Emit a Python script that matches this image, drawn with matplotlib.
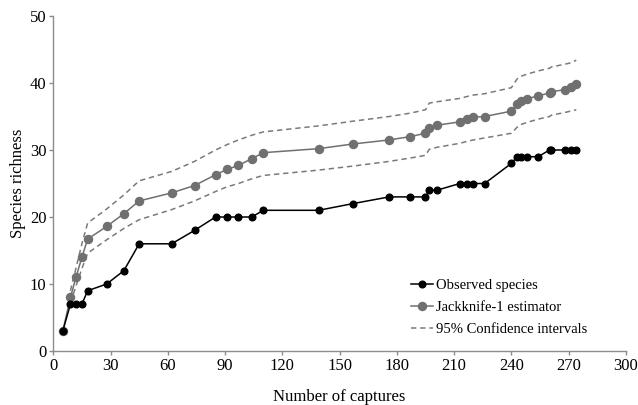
import matplotlib
matplotlib.use('Agg')
from matplotlib import pyplot as plt

# sampling effort (number of captures)
captures = [5, 9, 12, 15, 18, 28, 37, 45, 62, 74, 85, 91, 97, 104, 110,
            139, 157, 176, 187, 195, 197, 201, 213, 217, 220, 226, 240,
            243, 245, 248, 254, 260, 261, 268, 271, 274]
observed = [3, 7, 7, 7, 9, 10, 12, 16, 16, 18, 20, 20, 20, 20, 21,
            21, 22, 23, 23, 23, 24, 24, 25, 25, 25, 25, 28,
            29, 29, 29, 29, 30, 30, 30, 30, 30]
jackknife = [3, 8, 11.1, 14, 16.7, 18.6, 20.5, 22.4, 23.6, 24.7, 26.3, 27.1,
             27.7, 28.7, 29.6, 30.2, 30.9, 31.5, 32.0, 32.5, 33.3, 33.7,
             34.2, 34.6, 34.9, 35.0, 35.8, 36.8, 37.3, 37.6, 38.1, 38.5,
             38.7, 39.0, 39.4, 39.8]

ci_x = captures[1:]
ci_upper = [9.0, 12.5, 16.0, 19.1, 21.2, 23.3, 25.4, 26.8, 28.3, 30.0, 30.8,
            31.5, 32.2, 32.7, 33.6, 34.3, 35.0, 35.5, 36.0, 37.0, 37.2, 37.7,
            38.0, 38.2, 38.4, 39.3, 40.6, 41.0, 41.3, 41.8, 42.2, 42.4, 42.8,
            43.0, 43.4]
ci_lower = [7.2, 9.8, 12.3, 14.6, 16.6, 18.3, 19.6, 21.1, 22.4, 23.8, 24.5,
            25.0, 25.7, 26.2, 27.0, 27.6, 28.3, 28.8, 29.2, 30.1, 30.4, 31.0,
            31.3, 31.5, 31.8, 32.5, 33.4, 33.8, 34.1, 34.6, 35.0, 35.2, 35.6,
            35.8, 36.0]


def plot_richness():
    plt.rcParams['font.family'] = ['Liberation Serif', 'DejaVu Serif']
    fig = plt.figure(figsize=(6.38, 4.05), dpi=100)
    ax = fig.add_axes([0.0835, 0.1333, 0.8975, 0.8272])

    ax.plot(ci_x, ci_upper, color='#7a7a7a', linestyle=(0, (3.5, 2.5)),
            linewidth=1.1, label='95% Confidence intervals', zorder=1)
    ax.plot(ci_x, ci_lower, color='#7a7a7a', linestyle=(0, (3.5, 2.5)),
            linewidth=1.1, zorder=1)
    ax.plot(captures, observed, color='black', marker='o', markersize=4.8,
            linewidth=1.1, label='Observed species', zorder=3)
    ax.plot(captures, jackknife, color='#707070', marker='o', markersize=5.8,
            linewidth=1.1, label='Jackknife-1 estimator', zorder=2)

    ax.set_xlim(0, 300)
    ax.set_ylim(0, 50)
    ax.set_xticks(range(0, 301, 30))
    ax.set_yticks(range(0, 51, 10))
    for side in ('top', 'right'):
        ax.spines[side].set_visible(False)
    for side in ('left', 'bottom'):
        ax.spines[side].set_color('#8c8c8c')
        ax.spines[side].set_linewidth(1.0)
    ax.tick_params(direction='out', length=3, width=1, color='#8c8c8c',
                   labelsize=12, pad=2)
    ax.set_xlabel('Number of captures', fontsize=12, labelpad=11)
    ax.set_ylabel('Species richness', fontsize=12, labelpad=3)

    handles, labels = ax.get_legend_handles_labels()
    order = [1, 2, 0]
    ax.legend([handles[i] for i in order], [labels[i] for i in order],
              loc='upper left', bbox_to_anchor=(0.6246, 0.216),
              frameon=False, fontsize=10.5, handlelength=1.5,
              handletextpad=0.25, labelspacing=0.62, borderpad=0,
              borderaxespad=0)

    fig.savefig('out.png', dpi=100)


def main():
    plot_richness()


if __name__ == '__main__':
    main()
